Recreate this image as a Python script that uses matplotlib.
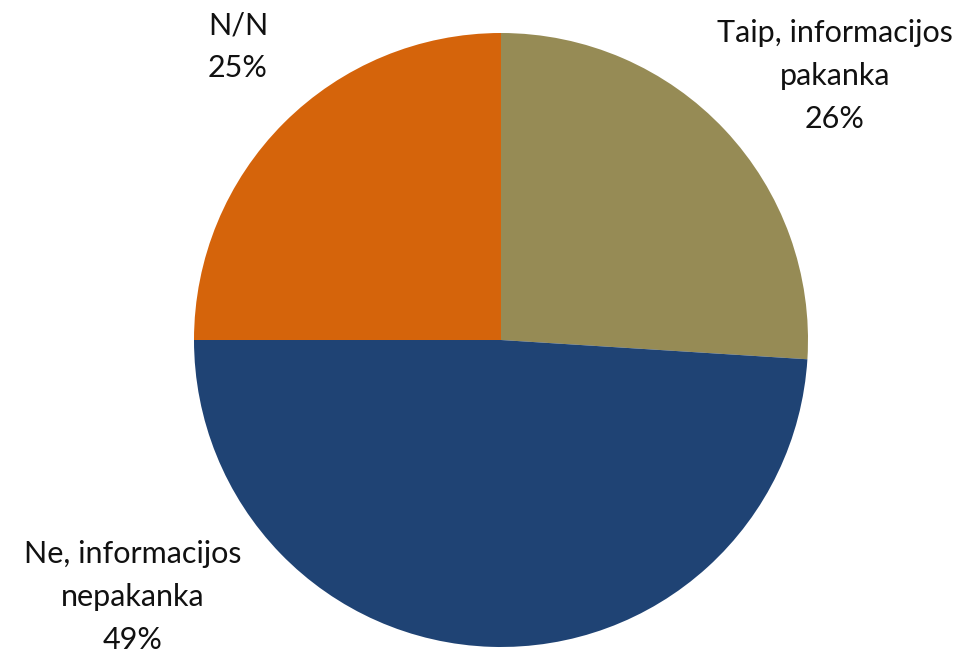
import numpy as np
import matplotlib
matplotlib.use("Agg")
import matplotlib.pyplot as plt

labels = ["Taip, informacijos\npakanka", "Ne, informacijos\nnepakanka", "N/N"]
shares = [26, 49, 25]
colors = ["#968B55", "#1F4374", "#D5640B"]
# label anchor points (data coords, pie radius = 1)
label_xy = [(1.088, 0.86), (-1.20, -0.838), (-0.857, 0.955)]

W, H = 965, 657
fig = plt.figure(figsize=(W/100, H/100), dpi=100)
cx, cy, R = 501, 340, 307
ax = fig.add_axes([(cx-R)/W, (H-cy-R)/H, 2*R/W, 2*R/H])
ax.pie(shares, colors=colors, startangle=90, counterclock=False,
       radius=1, wedgeprops=dict(linewidth=0))
ax.set_xlim(-1, 1); ax.set_ylim(-1, 1)
ax.set_aspect("equal")
ax.set_axis_off()

for lab, s, (x, y) in zip(labels, shares, label_xy):
    ax.text(x, y, "%s\n%d%%" % (lab, s), ha="center", va="center",
            fontsize=22, family="Lato", linespacing=1.65, color="#111111",
            clip_on=False)

fig.savefig("out.png", dpi=100)
